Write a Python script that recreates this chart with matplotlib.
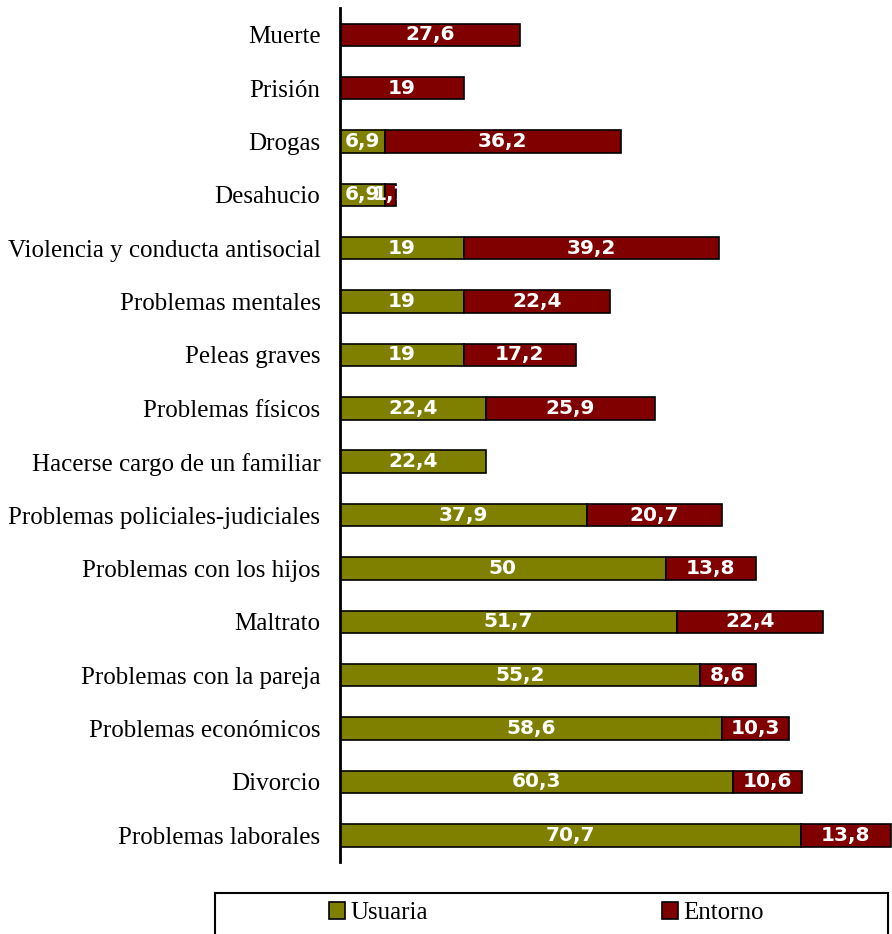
import numpy as np
import matplotlib.pyplot as plt
from matplotlib.patches import Rectangle

# categories listed top to bottom
categories = [
    "Muerte",
    "Prisión",
    "Drogas",
    "Desahucio",
    "Violencia y conducta antisocial",
    "Problemas mentales",
    "Peleas graves",
    "Problemas físicos",
    "Hacerse cargo de un familiar",
    "Problemas policiales-judiciales",
    "Problemas con los hijos",
    "Maltrato",
    "Problemas con la pareja",
    "Problemas económicos",
    "Divorcio",
    "Problemas laborales",
]
usuaria = [0, 0, 6.9, 6.9, 19, 19, 19, 22.4, 22.4, 37.9, 50, 51.7, 55.2, 58.6, 60.3, 70.7]
entorno = [27.6, 19, 36.2, 1.7, 39.2, 22.4, 17.2, 25.9, 0, 20.7, 13.8, 22.4, 8.6, 10.3, 10.6, 13.8]

OLIVE = "#808000"
MAROON = "#800000"
SERIF = ["Palatino Linotype", "Book Antiqua", "Liberation Serif", "DejaVu Serif"]


def fmt(v):
    return f"{v:g}".replace(".", ",")


fig = plt.figure(figsize=(8.92, 9.34), dpi=100)
ax = fig.add_axes([0.381, 0.0771, 0.619, 0.9143])

y = np.arange(len(categories))
usu = np.array(usuaria)
ent = np.array(entorno)

b1 = ax.barh(y, usu, height=0.42, color=OLIVE, edgecolor="black", linewidth=1.2)
b2 = ax.barh(y, ent, left=usu, height=0.42, color=MAROON, edgecolor="black",
             linewidth=1.2)

# hide zero-width segments
for bars, vals in ((b1, usu), (b2, ent)):
    for bar, v in zip(bars, vals):
        if v == 0:
            bar.set_visible(False)

# value labels in the middle of each segment
for i in range(len(categories)):
    if usu[i] > 0:
        ax.text(usu[i] / 2, i, fmt(usu[i]), ha="center", va="center",
                color="white", fontweight="bold", fontsize=14.5, family="DejaVu Sans")
    if ent[i] > 0:
        ax.text(usu[i] + ent[i] / 2, i, fmt(ent[i]), ha="center", va="center",
                color="white", fontweight="bold", fontsize=14.5, family="DejaVu Sans")

ax.set_xlim(0, 84.7)
ax.set_ylim(len(categories) - 0.5, -0.5)
ax.set_yticks(y)
ax.set_yticklabels(categories, family=SERIF, fontsize=18)
ax.tick_params(axis="y", length=0, pad=14)
ax.set_xticks([])
for side in ("top", "right", "bottom"):
    ax.spines[side].set_visible(False)
ax.spines["left"].set_linewidth(2)

# legend box running off the bottom edge
fig.patches.append(Rectangle((215 / 892, -0.02), 673 / 892, 0.064,
                             transform=fig.transFigure, fill=False,
                             edgecolor="black", linewidth=1.5))
handles = [Rectangle((0, 0), 1, 1, facecolor=OLIVE, edgecolor="black", linewidth=1.2),
           Rectangle((0, 0), 1, 1, facecolor=MAROON, edgecolor="black", linewidth=1.2)]
fig.legend(handles=handles, labels=["Usuaria", "Entorno"], ncol=2,
           loc="center left", bbox_to_anchor=(329 / 892, 1 - 913 / 934),
           frameon=False, prop={"family": SERIF, "size": 18},
           handlelength=0.65, handleheight=0.65, handletextpad=0.2,
           columnspacing=9.35, borderpad=0, borderaxespad=0)

fig.savefig("out.png", dpi=100)
